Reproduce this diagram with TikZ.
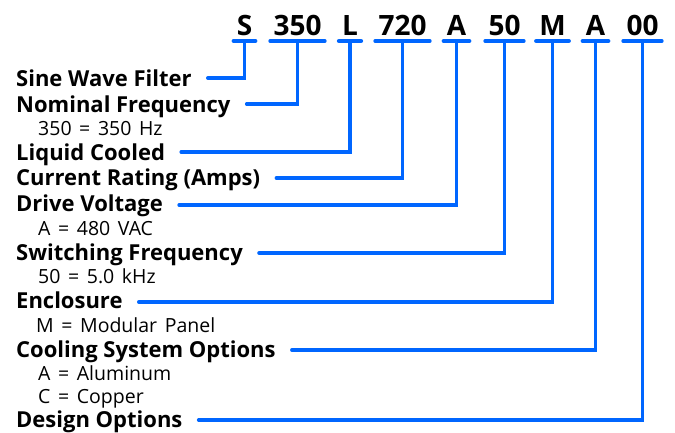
\documentclass[tikz,border=0pt]{standalone}
\usepackage{fontspec}
\setmainfont{Open Sans}
\newfontfamily\subfont[WordSpace=1.5]{Open Sans}
\definecolor{codeblue}{RGB}{0,102,255}
\begin{document}
\begin{tikzpicture}[x=1pt,y=-1pt,
  code/.style={anchor=base,inner xsep=3pt,inner ysep=0pt,font=\fontsize{28}{30}\selectfont\bfseries},
  lbl/.style={anchor=base west,inner sep=0pt,font=\fontsize{22}{24}\selectfont\bfseries},
  sub/.style={anchor=base west,inner sep=0pt,font=\subfont\fontsize{19.5}{21}\selectfont},
  bar/.style={draw=codeblue,line width=4pt,line cap=round},
  conn/.style={draw=codeblue,line width=3.5pt,line cap=round,line join=miter}]
\useasboundingbox (0,0) rectangle (675,432);
% codes
\node[code] (c1) at (244.5,35) {S};
\node[code] (c2) at (297.5,35) {350};
\node[code] (c3) at (350,35) {L};
\node[code] (c4) at (402.5,35) {720};
\node[code] (c5) at (456.5,35) {A};
\node[code] (c6) at (504.5,35) {50};
\node[code] (c7) at (552.5,35) {M};
\node[code] (c8) at (595.5,35) {A};
\node[code] (c9) at (642.5,35) {00};
\foreach \c in {c1,c2,c3,c4,c5,c6,c7,c8,c9}
  \draw[bar] ([yshift=-6pt]\c.base west) -- ([yshift=-6pt]\c.base east);
% labels
\node[lbl] (l1) at (16,86) {Sine Wave Filter};
\node[lbl] (l2) at (16,112) {Nominal Frequency};
\node[sub] (s2) at (38,135) {350 = 350 Hz};
\node[lbl] (l3) at (16,160) {Liquid Cooled};
\node[lbl] (l4) at (16,185) {Current Rating (Amps)};
\node[lbl] (l5) at (16,211) {Drive Voltage};
\node[sub] (s5) at (38,235) {A = 480 VAC};
\node[lbl] (l6) at (16,260) {Switching Frequency};
\node[sub] (s6) at (38,283) {50 = 5.0 kHz};
\node[lbl] (l7) at (16,308) {Enclosure};
\node[sub] (s7) at (36,332) {M = Modular Panel};
\node[lbl] (l8) at (16,357) {Cooling System Options};
\node[sub] (s8a) at (38,380) {A = Aluminum};
\node[sub] (s8b) at (38,403) {C = Copper};
\node[lbl] (l9) at (16,427) {Design Options};
% connectors
\draw[conn] ([shift={(16,-8)}]l1.base east) -| ([yshift=-6pt]c1.base);
\draw[conn] ([shift={(16,-8)}]l2.base east) -| ([yshift=-6pt]c2.base);
\draw[conn] ([shift={(16,-8)}]l3.base east) -| ([yshift=-6pt]c3.base);
\draw[conn] ([shift={(16,-7)}]l4.base east) -| ([yshift=-6pt]c4.base);
\draw[conn] ([shift={(16,-6)}]l5.base east) -| ([yshift=-6pt]c5.base);
\draw[conn] ([shift={(16,-7)}]l6.base east) -| ([yshift=-6pt]c6.base);
\draw[conn] ([shift={(16,-6)}]l7.base east) -| ([yshift=-6pt]c7.base);
\draw[conn] ([shift={(16,-7)}]l8.base east) -| ([yshift=-6pt]c8.base);
\draw[conn] ([shift={(16,-7)}]l9.base east) -| ([yshift=-6pt]c9.base);
\end{tikzpicture}
\end{document}
